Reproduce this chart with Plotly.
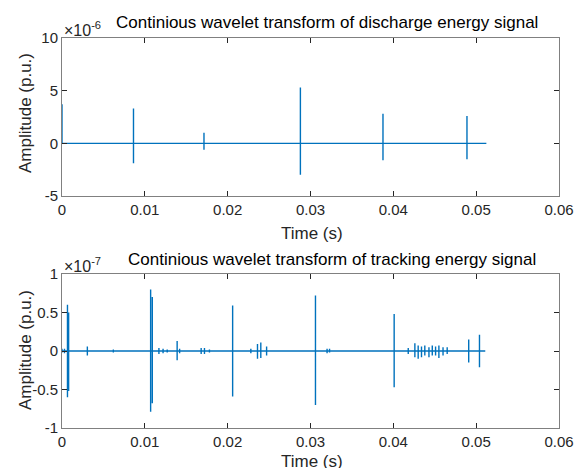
import plotly.graph_objects as go

# ---------------- data ----------------
# Discharge signal: spike events (time s, positive peak, negative peak), amplitudes x1e-6
dis_t   = [0.0000, 0.0015, 0.00863, 0.01714, 0.02878, 0.03875, 0.04889]
dis_pos = [3.7,    0.05,   3.3,     1.0,     5.3,     2.8,     2.6]
dis_neg = [0.0,   -0.05,  -1.9,    -0.6,    -2.98,   -1.6,    -1.5]
dis_end = 0.05123

# Tracking signal: spike events, amplitudes x1e-7
trk_t   = [0.0000, 0.0003, 0.00066, 0.0008, 0.00306, 0.0062, 0.0107, 0.0109, 0.0117, 0.0122,
           0.0127, 0.0139, 0.0142, 0.0168, 0.0172, 0.0178, 0.0206, 0.0228, 0.0236, 0.0240,
           0.0247, 0.0306, 0.0320, 0.0323, 0.0401, 0.0418, 0.0426, 0.0430, 0.0434, 0.0438,
           0.0443, 0.0447, 0.0451, 0.0455, 0.0460, 0.0465, 0.0491, 0.0504]
trk_pos = [0.03, 0.03, 0.60, 0.50, 0.06, 0.02, 0.80, 0.70, 0.04, 0.03,
           0.02, 0.13, 0.03, 0.04, 0.04, 0.02, 0.59, 0.03, 0.09, 0.11,
           0.06, 0.72, 0.03, 0.03, 0.48, 0.04, 0.10, 0.07, 0.06, 0.07,
           0.05, 0.07, 0.06, 0.07, 0.05, 0.05, 0.15, 0.21]
trk_neg = [-0.02, -0.03, -0.60, -0.52, -0.06, -0.02, -0.79, -0.68, -0.04, -0.03,
           -0.02, -0.12, -0.03, -0.04, -0.04, -0.02, -0.59, -0.03, -0.10, -0.09,
           -0.06, -0.70, -0.03, -0.02, -0.47, -0.04, -0.08, -0.10, -0.08, -0.06,
           -0.08, -0.06, -0.06, -0.09, -0.06, -0.04, -0.15, -0.21]
trk_end = 0.0511

x_ticks = [0, 0.01, 0.02, 0.03, 0.04, 0.05, 0.06]
y1_ticks = [-5, 0, 5, 10]
y2_ticks = [-1, -0.5, 0, 0.5, 1]


def build(ts, ps, ns, t_end, scale):
    xs, ys = [0.0], [0.0]
    for t, p, n in zip(ts, ps, ns):
        xs += [t, t, t, t]
        ys += [0.0, p * scale, n * scale, 0.0]
    xs.append(t_end)
    ys.append(0.0)
    return xs, ys


x1, y1 = build(dis_t, dis_pos, dis_neg, dis_end, 1e-6)
x2, y2 = build(trk_t, trk_pos, trk_neg, trk_end, 1e-7)

LINE = "#0072BD"
AX = "#262626"
BOX = "#808080"
FONT = "Liberation Sans, Arial, Helvetica, sans-serif"

fig = go.Figure()
fig.add_trace(go.Scatter(x=x1, y=y1, mode="lines", line=dict(color=LINE, width=1.4),
                         xaxis="x", yaxis="y", showlegend=False))
fig.add_trace(go.Scatter(x=x2, y=y2, mode="lines", line=dict(color=LINE, width=1.4),
                         xaxis="x2", yaxis="y2", showlegend=False))

W, H = 576, 468
xl, xr = 62, 559
t1, b1 = 38, 196
t2, b2 = 274, 428

xdom = [xl / W, xr / W]

common_x = dict(range=[0, 0.06], tickvals=x_ticks, ticktext=[f"{v:g}" for v in x_ticks],
                ticks="inside", ticklen=5, tickcolor=AX, showline=True, linecolor=BOX,
                linewidth=1, mirror="ticks", showgrid=False, zeroline=False, automargin=False,
                tickfont=dict(family=FONT, size=15, color=AX), domain=xdom)
common_y = dict(ticks="inside", ticklen=5, tickcolor=AX, showline=True, linecolor=BOX,
                linewidth=1, mirror="ticks", showgrid=False, zeroline=False, automargin=False,
                tickfont=dict(family=FONT, size=15, color=AX))

fig.update_layout(
    template="none",
    width=W, height=H,
    margin=dict(l=0, r=0, t=0, b=0, pad=0),
    paper_bgcolor="white", plot_bgcolor="white",
    xaxis=dict(common_x, anchor="y"),
    yaxis=dict(common_y, range=[-5e-6, 10e-6], tickvals=[v * 1e-6 for v in y1_ticks],
               ticktext=[f"{v:g}" for v in y1_ticks], anchor="x",
               domain=[1 - b1 / H, 1 - t1 / H]),
    xaxis2=dict(common_x, anchor="y2"),
    yaxis2=dict(common_y, range=[-1e-7, 1e-7], tickvals=[v * 1e-7 for v in y2_ticks],
                ticktext=[f"{v:g}" for v in y2_ticks], anchor="x2",
                domain=[1 - b2 / H, 1 - t2 / H]),
)

ann = []
def A(text, x, y, size, color="#000000", angle=0, xanchor="center", yanchor="middle"):
    ann.append(dict(text=text, x=x / W, y=1 - y / H, xref="paper", yref="paper",
                    showarrow=False, textangle=angle, xanchor=xanchor, yanchor=yanchor,
                    font=dict(family=FONT, size=size, color=color)))

A("Continious wavelet transform of discharge energy signal", 114, 22, 17, xanchor="left")
A("Continious wavelet transform of tracking energy signal", 126, 259, 17, xanchor="left")
A("×10<sup>-6</sup>", 62, 29, 16, AX, xanchor="left")
A("×10<sup>-7</sup>", 62, 265, 16, AX, xanchor="left")
A("Time (s)", 312, 233, 17, AX)
A("Time (s)", 312, 461, 17, AX)
A("Amplitude (p.u.)", 25, 113, 17, AX, angle=-90)
A("Amplitude (p.u.)", 25, 350, 17, AX, angle=-90)
fig.update_layout(annotations=ann)

fig.write_html("out.html")
